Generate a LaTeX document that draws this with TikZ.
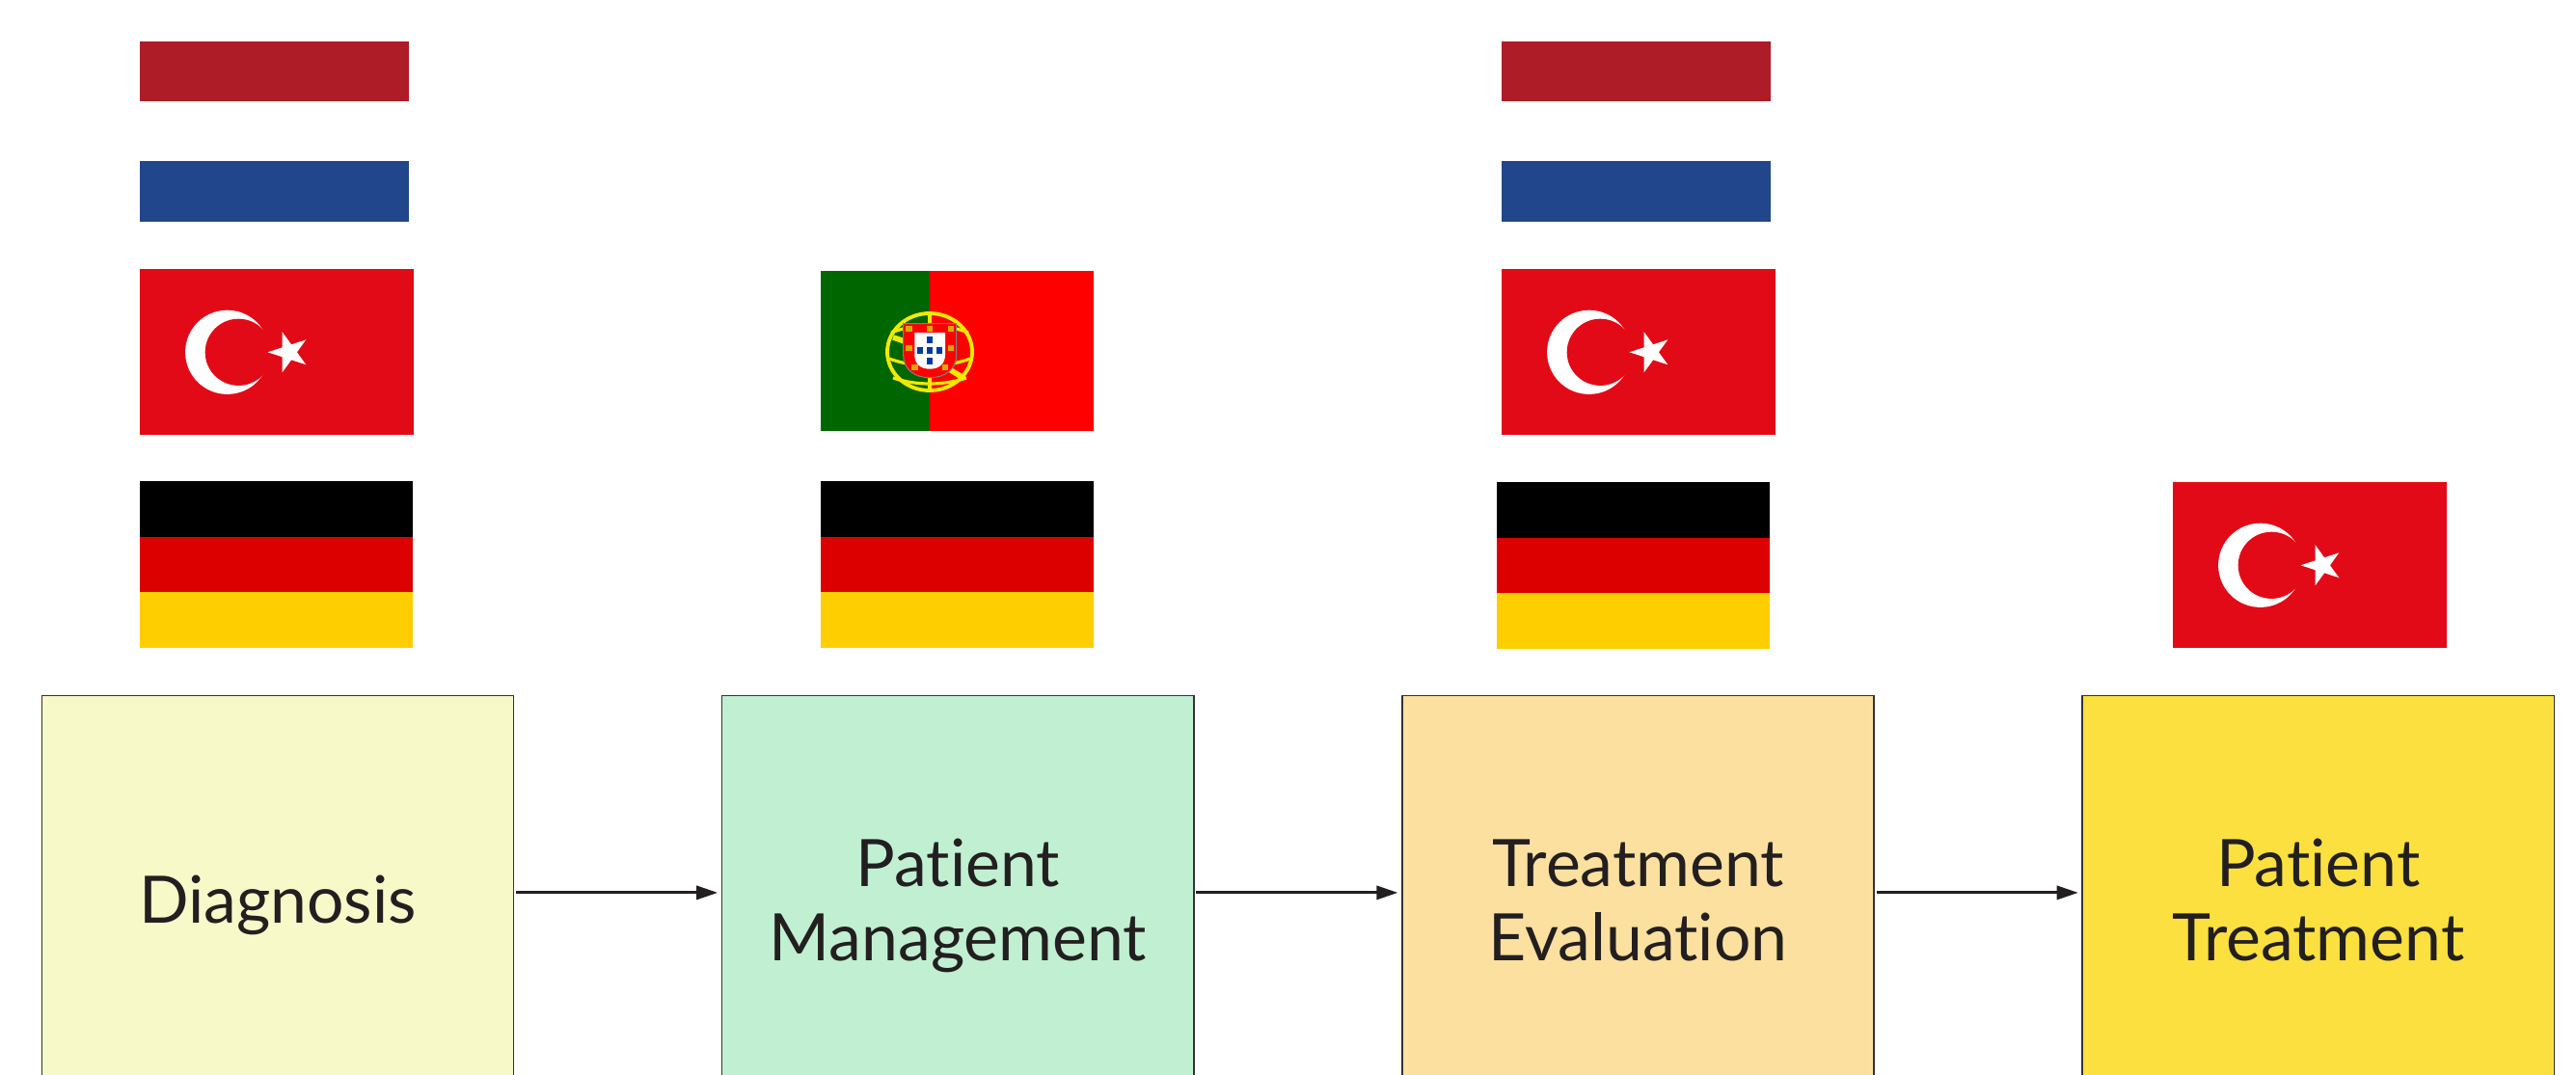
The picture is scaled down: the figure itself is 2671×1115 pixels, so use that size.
\documentclass[tikz,border=0pt]{standalone}
\usepackage{fontspec}
\setmainfont{Lato}[Ligatures=NoCommon]
\usetikzlibrary{arrows.meta}

\definecolor{nlred}{HTML}{AE1C28}
\definecolor{nlblue}{HTML}{21468B}
\definecolor{trred}{HTML}{E30A17}
\definecolor{dered}{HTML}{DD0000}
\definecolor{degold}{HTML}{FFCE00}
\definecolor{ptgreen}{HTML}{006600}
\definecolor{ptred}{HTML}{FF0000}
\definecolor{ptyellow}{HTML}{F2EA00}
\definecolor{ptblue}{HTML}{0038A8}
\definecolor{ptcastle}{HTML}{D9A800}
\definecolor{diagfill}{HTML}{F7F9C9}
\definecolor{mgmtfill}{HTML}{C0F0D1}
\definecolor{evalfill}{HTML}{FCE0A0}
\definecolor{treatfill}{HTML}{FBE040}
\definecolor{textdark}{HTML}{231F20}
\definecolor{boxline}{HTML}{333333}

\tikzset{
  stage/.style={draw=boxline, line width=0.45pt, anchor=north west,
    minimum width=4.89cm, minimum height=4.09cm, inner sep=0pt,
    align=center, text=textdark, font=\fontsize{19.3}{21.9}\selectfont,
    text height=19.97pt, text depth=1.93pt},
  twoline/.style={text height=41.88pt},
  link/.style={draw=textdark, line width=0.9pt,
    -{Triangle[length=6.3pt,width=4pt]}, shorten <=0.5pt, shorten >=1pt}
}

\newcommand{\flagNL}[2]{%
  \begin{scope}[shift={(#1,#2)}]
    \fill[nlred] (0,0) rectangle (279,62);
    \fill[nlblue] (0,124.5) rectangle (279,186.6);
  \end{scope}}
\newcommand{\flagDE}[2]{%
  \begin{scope}[shift={(#1,#2)}]
    \fill[black] (0,0) rectangle (283,57.7);
    \fill[dered] (0,57.7) rectangle (283,115.4);
    \fill[degold] (0,115.4) rectangle (283,173);
  \end{scope}}
\newcommand{\flagTR}[2]{%
  \begin{scope}[shift={(#1,#2)}]
    \fill[trred] (0,0) rectangle (284,172);
    \fill[white] (90.7,86.3) circle [radius=43.6];
    \fill[trred] (102.3,86.3) circle [radius=34.6];
    \fill[white] plot[samples at={0,...,4}]
      ({154.5+22*cos(180+144*\x)},{86.3+22*sin(180+144*\x)}) -- cycle;
  \end{scope}}

\begin{document}
\begin{tikzpicture}[x=0.01cm, y=-0.01cm]
\useasboundingbox (0,0) rectangle (2671,1115);
\clip (0,0) rectangle (2671,1115);

\flagNL{145}{42.9}
\flagTR{145}{279}
\flagDE{145}{499}

\fill[ptgreen] (851,281) rectangle (964,446.7);
\fill[ptred] (964,281) rectangle (1134,446.7);
\draw[ptyellow, line width=1.1pt] (964,365) ellipse [x radius=44, y radius=40];
\draw[ptyellow, line width=0.9pt] (924,345) .. controls (950,335) and (978,335) .. (1004,345);
\draw[ptyellow, line width=0.9pt] (922,372) .. controls (950,382) and (978,382) .. (1006,372);
\draw[ptyellow, line width=1.6pt] (926,350) .. controls (960,360) and (975,380) .. (1000,392);
\draw[ptyellow, line width=0.9pt] (964,325) -- (964,405);
\draw[ptyellow, line width=0.9pt] (926,392) .. controls (950,400) and (978,400) .. (1002,392);
\filldraw[fill=ptred, draw=gray, line width=0.3pt] (936.7,335.7) -- (991.7,335.7) -- (991.7,368)
  .. controls (991.7,384) and (979,391.7) .. (964.2,391.7)
  .. controls (949,391.7) and (936.7,384) .. (936.7,368) -- cycle;
\fill[white] (948.3,345) -- (980,345) -- (980,368)
  .. controls (980,378) and (973,382.7) .. (964.2,382.7)
  .. controls (955,382.7) and (948.3,378) .. (948.3,368) -- cycle;
\foreach \qx/\qy in {964/352.7, 954/363.3, 964/363.3, 974/363.3, 964/374.3}
  \fill[ptblue] (\qx-3,\qy-3.5) rectangle (\qx+3,\qy+3.5);
\foreach \cx/\cy in {942.3/341, 964.2/341, 986/341, 942.3/360.7, 986/360.7, 948.3/381, 980/381}
  \fill[ptcastle] (\cx-3.2,\cy-3) rectangle (\cx+3.2,\cy+3);
\flagDE{851}{499}

\flagNL{1557}{42.9}
\flagTR{1557}{279}
\flagDE{1552}{500}

\flagTR{2253}{500}

\node[stage, fill=diagfill] (diag) at (42.6,720.5) {Diagnosis};
\node[stage, twoline, fill=mgmtfill] (mgmt) at (747.8,720.5) {Patient\\Management};
\node[stage, twoline, fill=evalfill] (eval) at (1453,720.5) {Treatment\\Evaluation};
\node[stage, twoline, fill=treatfill] (treat) at (2158.4,720.5) {Patient\\Treatment};

\draw[link] (diag) -- (mgmt);
\draw[link] (mgmt) -- (eval);
\draw[link] (eval) -- (treat);
\end{tikzpicture}
\end{document}
